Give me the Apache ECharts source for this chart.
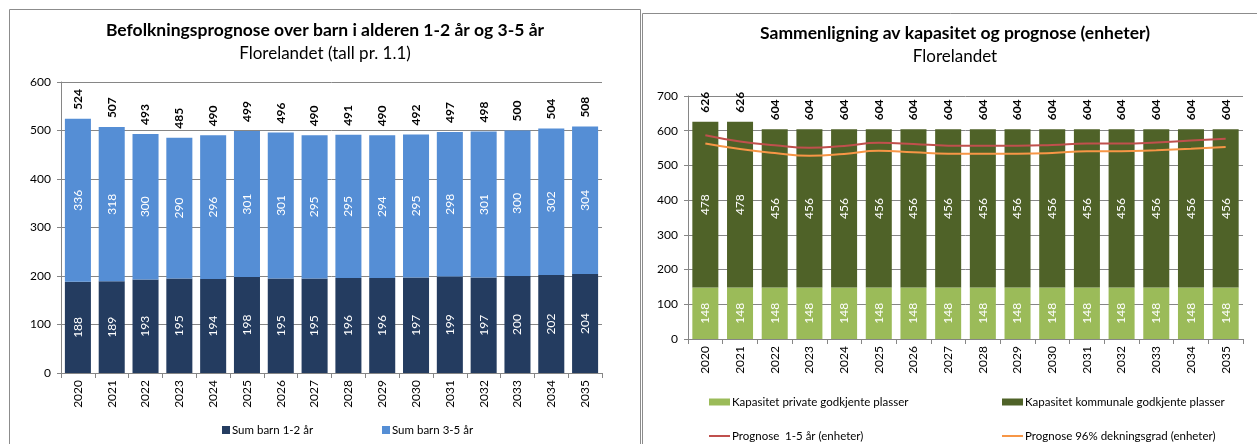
<!DOCTYPE html>
<html>
<head>
<meta charset="utf-8">
<script src="https://cdn.jsdelivr.net/npm/echarts@6/dist/echarts.min.js"></script>
<style>
html, body { margin: 0; padding: 0; background: #fff; }
#container { width: 1257px; height: 444px; }
</style>
</head>
<body>
<div id="container"></div>
<script>
const years = ['2020', '2021', '2022', '2023', '2024', '2025', '2026', '2027',
  '2028', '2029', '2030', '2031', '2032', '2033', '2034', '2035'];

// venstre diagram
const barn12 = [188, 189, 193, 195, 194, 198, 195, 195, 196, 196, 197, 199, 197, 200, 202, 204];
const barn35 = [336, 318, 300, 290, 296, 301, 301, 295, 295, 294, 295, 298, 301, 300, 302, 304];

// høyre diagram
const privatePlasser = [148, 148, 148, 148, 148, 148, 148, 148, 148, 148, 148, 148, 148, 148, 148, 148];
const kommunalePlasser = [478, 478, 456, 456, 456, 456, 456, 456, 456, 456, 456, 456, 456, 456, 456, 456];
const prognose15 = [587, 569, 558, 551, 556, 565, 562, 557, 557, 557, 559, 563, 563, 566, 572, 577];
const prognose96 = [563, 547, 536, 528, 533, 542, 538, 534, 534, 534, 536, 541, 541, 544, 548, 553];

const sumBarn = barn12.map((v, i) => v + barn35[i]);
const sumPlasser = privatePlasser.map((v, i) => v + kommunalePlasser[i]);

const font = 'Lato';
const axisGrey = '#868686';

let myChart = echarts.init(document.getElementById('container'), null, { renderer: 'canvas' });

const insideLabel = {
  show: true,
  position: 'inside',
  rotate: 90,
  color: '#fff',
  fontFamily: font,
  fontSize: 12
};

// sumtall over stolpene, rotert 90 grader
function totalSeries(gridIndex, totals) {
  return {
    type: 'custom',
    xAxisIndex: gridIndex,
    yAxisIndex: gridIndex,
    silent: true,
    z: 5,
    data: totals.map((v, i) => [i, v]),
    renderItem: (params, api) => {
      const p = api.coord([api.value(0), api.value(1)]);
      return {
        type: 'text',
        x: p[0],
        y: p[1] - 9,
        rotation: Math.PI / 2,
        style: {
          text: String(api.value(1)),
          align: 'left',
          verticalAlign: 'middle',
          fill: '#000',
          font: 'bold 12px ' + font
        }
      };
    }
  };
}

function xAxis(gridIndex) {
  return {
    type: 'category',
    gridIndex,
    data: years,
    axisLine: { lineStyle: { color: axisGrey } },
    axisTick: { show: true, length: 5, lineStyle: { color: axisGrey } },
    axisLabel: { interval: 0, rotate: 90, margin: 7, color: '#000', fontFamily: font, fontSize: 12 }
  };
}
function yAxis(gridIndex, max) {
  return {
    type: 'value',
    gridIndex,
    min: 0,
    max,
    interval: 100,
    axisLine: { show: true, lineStyle: { color: axisGrey } },
    axisTick: { show: true, length: 4, lineStyle: { color: axisGrey } },
    axisLabel: { margin: 10, color: '#000', fontFamily: font, fontSize: 12 },
    splitLine: { show: true, lineStyle: { color: axisGrey, width: 1 } }
  };
}
function legend(name, left, top, w, h) {
  return {
    data: [{ name, icon: 'rect' }],
    left, top,
    padding: 0,
    itemWidth: w,
    itemHeight: h,
    itemGap: 0,
    selectedMode: false,
    textStyle: { color: '#000', fontFamily: font, fontSize: 11.5, padding: [0, 0, 0, -3] }
  };
}

let option = {
  backgroundColor: '#fff',
  animation: false,
  title: [
    { text: 'Befolkningsprognose over barn i alderen 1-2 år og 3-5 år', left: 325, top: 21, padding: 0, textAlign: 'center',
      textStyle: { fontFamily: font, fontWeight: 'bold', fontSize: 17.5, color: '#000' } },
    { text: 'Florelandet (tall pr. 1.1)', left: 325, top: 45, padding: 0, textAlign: 'center',
      textStyle: { fontFamily: font, fontWeight: 'normal', fontSize: 17, color: '#000' } },
    { text: 'Sammenligning av kapasitet og prognose (enheter)', left: 955, top: 24, padding: 0, textAlign: 'center',
      textStyle: { fontFamily: font, fontWeight: 'bold', fontSize: 17.5, color: '#000' } },
    { text: 'Florelandet', left: 955, top: 48, padding: 0, textAlign: 'center',
      textStyle: { fontFamily: font, fontWeight: 'normal', fontSize: 17, color: '#000' } }
  ],
  graphic: [
    { type: 'rect', shape: { x: 9.5, y: 9.5, width: 631, height: 460 }, style: { fill: 'none', stroke: '#8c8c8c', lineWidth: 1 }, z: -1 },
    { type: 'rect', shape: { x: 642.5, y: 13.5, width: 640, height: 460 }, style: { fill: 'none', stroke: '#8c8c8c', lineWidth: 1 }, z: -1 }
  ],
  legend: [
    legend('Sum barn 1-2 år', 222, 424, 8, 8),
    legend('Sum barn 3-5 år', 382, 424, 8, 8),
    legend('Kapasitet private godkjente plasser', 709, 396, 21, 7),
    legend('Kapasitet kommunale godkjente plasser', 1002, 396, 21, 7),
    legend('Prognose  1-5 år (enheter)', 709, 430, 21, 2),
    legend('Prognose 96% dekningsgrad (enheter)', 1002, 430, 21, 2)
  ],
  grid: [
    { left: 61, top: 82, width: 541, height: 291 },
    { left: 688, top: 96, width: 555, height: 243 }
  ],
  xAxis: [xAxis(0), xAxis(1)],
  yAxis: [yAxis(0, 600), yAxis(1, 700)],
  series: [
    {
      name: 'Sum barn 1-2 år', type: 'bar', stack: 'barn', xAxisIndex: 0, yAxisIndex: 0,
      barCategoryGap: '23%', itemStyle: { color: '#243C60' }, label: insideLabel, data: barn12
    },
    {
      name: 'Sum barn 3-5 år', type: 'bar', stack: 'barn', xAxisIndex: 0, yAxisIndex: 0,
      barCategoryGap: '23%', itemStyle: { color: '#558ED5' }, label: insideLabel, data: barn35
    },
    totalSeries(0, sumBarn),
    {
      name: 'Kapasitet private godkjente plasser', type: 'bar', stack: 'kap', xAxisIndex: 1, yAxisIndex: 1,
      barCategoryGap: '25%', itemStyle: { color: '#9BBB59' }, label: insideLabel, data: privatePlasser
    },
    {
      name: 'Kapasitet kommunale godkjente plasser', type: 'bar', stack: 'kap', xAxisIndex: 1, yAxisIndex: 1,
      barCategoryGap: '25%', itemStyle: { color: '#4F6228' }, label: insideLabel, data: kommunalePlasser
    },
    totalSeries(1, sumPlasser),
    {
      name: 'Prognose  1-5 år (enheter)', type: 'line', xAxisIndex: 1, yAxisIndex: 1, smooth: true, z: 3,
      symbol: 'none', lineStyle: { color: '#C0504D', width: 2 }, itemStyle: { color: '#C0504D' }, data: prognose15
    },
    {
      name: 'Prognose 96% dekningsgrad (enheter)', type: 'line', xAxisIndex: 1, yAxisIndex: 1, smooth: true, z: 3,
      symbol: 'none', lineStyle: { color: '#F79646', width: 2 }, itemStyle: { color: '#F79646' }, data: prognose96
    }
  ]
};
myChart.setOption(option);
</script>
</body>
</html>
